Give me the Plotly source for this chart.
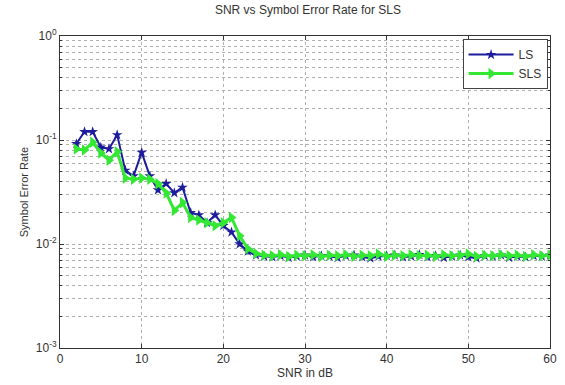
import plotly.graph_objects as go

snr = list(range(2, 61))

ls_ser = [0.092, 0.12, 0.12, 0.085, 0.082, 0.112, 0.051, 0.045, 0.076, 0.045,
          0.033, 0.038, 0.031, 0.035, 0.020, 0.019, 0.016, 0.019, 0.015, 0.013,
          0.0100, 0.0085,
          0.0078, 0.0076, 0.0075, 0.0077, 0.0074, 0.0076, 0.0078, 0.0075, 0.0077, 0.0076,
          0.0074, 0.0077, 0.0078, 0.0075, 0.0073, 0.0076, 0.0077, 0.0078, 0.0075, 0.0076,
          0.0079, 0.0075, 0.0077, 0.0074, 0.0076, 0.0078, 0.0075, 0.0073, 0.0077, 0.0076,
          0.0078, 0.0074, 0.0076, 0.0075, 0.0077, 0.0076, 0.0078]

sls_ser = [0.082, 0.080, 0.095, 0.075, 0.064, 0.077, 0.043, 0.042, 0.043, 0.042,
           0.038, 0.031, 0.021, 0.025, 0.018, 0.017, 0.016, 0.015, 0.016, 0.018,
           0.012, 0.0090,
           0.0081, 0.0078, 0.0077, 0.0079, 0.0076, 0.0078, 0.0077, 0.0079, 0.0076, 0.0078,
           0.0077, 0.0079, 0.0076, 0.0078, 0.0077, 0.0080, 0.0076, 0.0078, 0.0077, 0.0079,
           0.0077, 0.0078, 0.0076, 0.0079, 0.0077, 0.0078, 0.0080, 0.0076, 0.0078, 0.0077,
           0.0079, 0.0077, 0.0078, 0.0076, 0.0079, 0.0077, 0.0078]

y_tickvals = [0.001, 0.01, 0.1, 1]
y_ticktext = ["10<sup>-3</sup>", "10<sup>-2</sup>", "10<sup>-1</sup>", "10<sup>0</sup>"]
x_tickvals = [0, 10, 20, 30, 40, 50, 60]

fig = go.Figure()
fig.add_trace(go.Scatter(
    x=snr, y=ls_ser, name="LS", mode="lines+markers",
    line=dict(color="#1c1c9c", width=2),
    marker=dict(symbol="star", size=8, color="#1c1c9c"),
))
fig.add_trace(go.Scatter(
    x=snr, y=sls_ser, name="SLS", mode="lines+markers",
    line=dict(color="#33e833", width=3),
    marker=dict(symbol="triangle-right", size=10, color="#33e833"),
))

grid = "#b0b0b0"
fig.update_layout(
    width=565, height=385,
    margin=dict(l=60, r=8, t=36, b=28),
    paper_bgcolor="white", plot_bgcolor="white",
    font=dict(family="Liberation Sans, Arial", size=12, color="#333333"),
    title=dict(text="SNR vs Symbol Error Rate for SLS", x=0.545, xanchor="center",
               y=0.985, yanchor="top", font=dict(size=12, color="#333333")),
    showlegend=True,
    legend=dict(x=0.995, y=0.99, xanchor="right", yanchor="top",
                bgcolor="white", bordercolor="#444444", borderwidth=1,
                font=dict(size=12, color="#333333"), itemwidth=45,
                tracegroupgap=0),
)
fig.update_xaxes(
    range=[0, 60], tickvals=x_tickvals,
    showgrid=True, gridcolor=grid, griddash="dot", gridwidth=1,
    showline=True, linecolor="#333333", linewidth=1, mirror="ticks",
    ticks="inside", ticklen=4, tickcolor="#333333",
    zeroline=False,
    title=dict(text="SNR in dB", standoff=2, font=dict(size=12)),
)
fig.update_yaxes(
    type="log", range=[-3, 0], tickvals=y_tickvals, ticktext=y_ticktext,
    showgrid=True, gridcolor=grid, griddash="dot", gridwidth=1,
    showline=True, linecolor="#333333", linewidth=1, mirror="ticks",
    ticks="inside", ticklen=4, tickcolor="#333333",
    minor=dict(dtick="D1", showgrid=True, gridcolor=grid, griddash="dot",
               ticks="inside", ticklen=2, tickcolor="#333333"),
    zeroline=False,
    title=dict(text="Symbol Error Rate", standoff=4, font=dict(size=11)),
)

fig.write_html("out.html")
